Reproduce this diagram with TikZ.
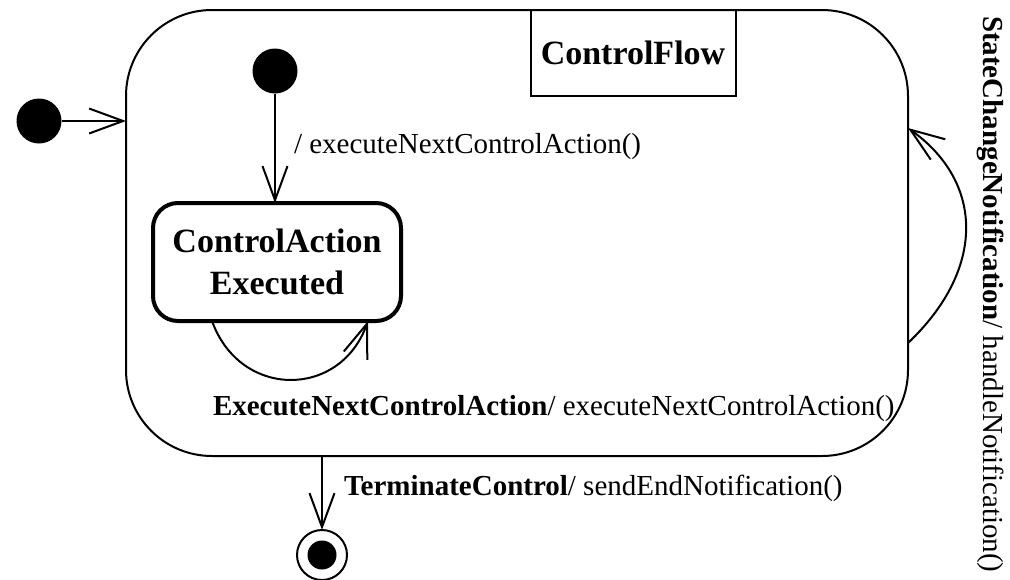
\documentclass[tikz,border=0pt]{standalone}
\usepackage{fontspec}
\setmainfont{Liberation Serif}
\usetikzlibrary{arrows.meta,calc}
\newcommand\bdtext[1]{{\bfseries #1}}
\newcommand\rgtext[1]{{\mdseries #1}}
\begin{document}
\begin{tikzpicture}[x=1pt,y=-1pt,
  line width=2pt,
  arr/.style={-{Straight Barb[length=34pt,width=25pt,line width=2pt]}},
  dot/.style={circle,fill=black,minimum size=45pt,inner sep=0pt,outer sep=0pt},
  bigname/.style={font=\fontsize{34}{42}\selectfont\bfseries,align=center},
  lbl/.style={font=\fontsize{29}{34}\selectfont,inner sep=0pt,anchor=base west}]
\useasboundingbox (0,0) rectangle (1010,579);
% composite state
\node[draw,rounded corners=86pt,minimum width=782pt,minimum height=446pt,inner sep=0pt,outer sep=0pt] (flow) at (517,233) {};
\node[draw,minimum width=205pt,minimum height=86pt,inner sep=0pt,outer sep=0pt,anchor=north,bigname] (cfbox) at (633,10) {ControlFlow};
% initial states
\node[dot] (init) at (39,121) {};
\node[dot] (inner) at (275,71) {};
% inner state
\node[draw,line width=4pt,rounded corners=25pt,minimum width=248pt,minimum height=118pt,inner sep=0pt,outer sep=0pt,bigname] (st) at (277,262) {ControlAction\\Executed};
% final state
\node[draw,circle,minimum size=50pt,inner sep=0pt,outer sep=0pt] (fin) at (322,555) {};
\node[circle,fill=black,minimum size=29pt,inner sep=0pt] (finin) at (fin.center) {};
% transitions
\draw[arr] (init) -- (init -| flow.west);
\draw[arr] (inner) -- (inner |- st.north);
\coordinate (la) at ([xshift=-65pt]st.south);
\coordinate (lb) at ([xshift=91pt]st.south);
\draw[arr] (la) .. controls ($(la)+(28,78)$) and ($(lb)+(-28,78)$) .. (lb);
\draw[arr] (fin |- flow.south) -- (fin.north);
\path (flow.east) ++(0,110) coordinate (ra);
\path (flow.east) ++(0,-105) coordinate (rb);
\draw[arr] (ra) .. controls ($(ra)+(77,-73)$) and ($(rb)+(77,55)$) .. (rb);
% labels
\node[lbl] (l1) at (293,153) {\rgtext{/ executeNextControlAction()}};
\node[lbl] (l2) at (212,415) {\bdtext{ExecuteNextControlAction}\rgtext{/ executeNextControlAction()}};
\node[lbl] (l3) at (343,495) {\bdtext{TerminateControl}\rgtext{/ sendEndNotification()}};
\node[lbl,rotate=-90] (l4) at (983,15) {\bdtext{StateChangeNotification}\rgtext{/ handleNotification()}};
\end{tikzpicture}
\end{document}
